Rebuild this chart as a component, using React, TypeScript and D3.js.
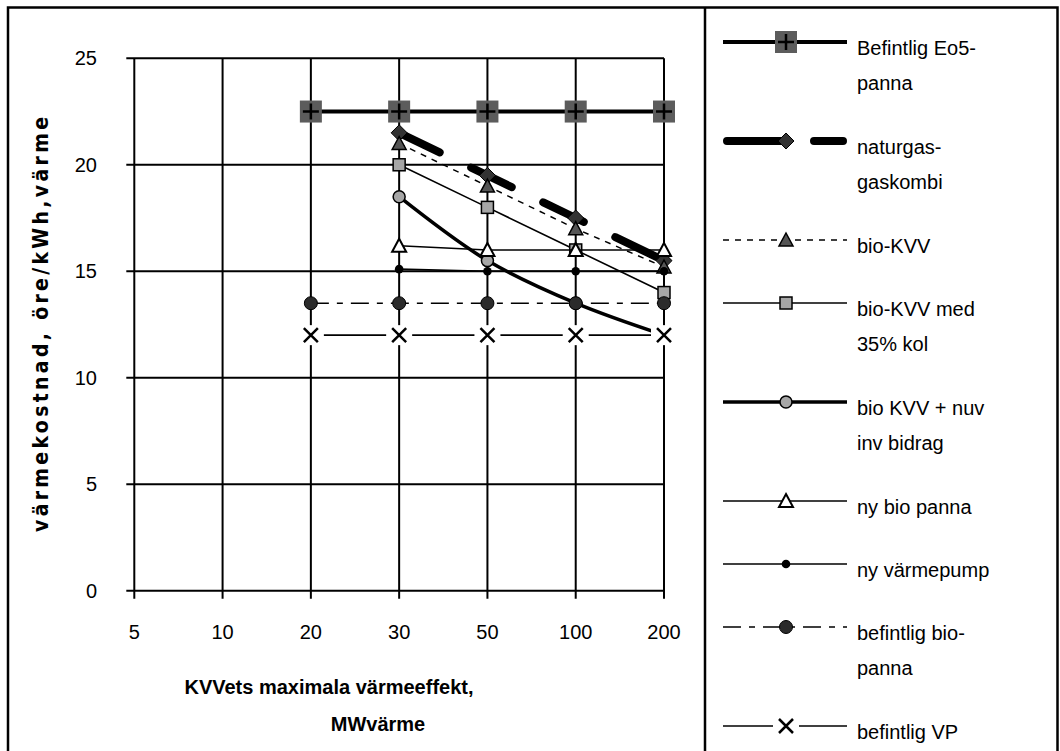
import { useRef, useEffect } from 'react'
import * as d3 from 'd3'

// KVV storlek, MW värme
const categories = ["5", "10", "20", "30", "50", "100", "200"]
const yTicks = [0, 5, 10, 15, 20, 25]

// värmekostnad öre/kWh per alternativ (null = ingen punkt)
const befintligEo5 = [null, null, 22.5, 22.5, 22.5, 22.5, 22.5]
const naturgasKombi = [null, null, null, 21.5, 19.5, 17.5, 15.5]
const bioKvv = [null, null, null, 21, 19, 17, 15.2]
const bioKvvKol = [null, null, null, 20, 18, 16, 14]
const bioKvvBidrag = [null, null, null, 18.5, 15.5, 13.5, 12]
const nyBioPanna = [null, null, null, 16.2, 16, 16, 16]
const nyVarmepump = [null, null, null, 15.1, 15, 15, 15]
const befintligBioPanna = [null, null, 13.5, 13.5, 13.5, 13.5, 13.5]
const befintligVP = [null, null, 12, 12, 12, 12, 12]

const legendLabels = [
  ["Befintlig Eo5-", "panna"],
  ["naturgas-", "gaskombi"],
  ["bio-KVV"],
  ["bio-KVV med", "35% kol"],
  ["bio KVV + nuv", "inv bidrag"],
  ["ny bio panna"],
  ["ny värmepump"],
  ["befintlig bio-", "panna"],
  ["befintlig VP"],
]

const xTitle = ["KVVets maximala värmeeffekt,", "MWvärme"]
const yTitle = "värmekostnad, öre/kWh,värme"

type Marker = "plusSquare" | "diamond" | "triDark" | "square" | "circleGray" | "triWhite" | "dot" | "circleDark" | "cross"

interface Series {
  values: (number | null)[]
  width: number
  dash?: string
  cap?: string
  smooth?: boolean
  marker: Marker
  legendDash?: string
}

const series: Series[] = [
  { values: befintligEo5, width: 4, marker: "plusSquare" },
  { values: naturgasKombi, width: 8, dash: "45,35", cap: "round", marker: "diamond", legendDash: "55,32" },
  { values: bioKvv, width: 1.5, dash: "6,6", marker: "triDark" },
  { values: bioKvvKol, width: 1.6, marker: "square" },
  { values: bioKvvBidrag, width: 3.5, smooth: true, marker: "circleGray" },
  { values: nyBioPanna, width: 1.6, marker: "triWhite" },
  { values: nyVarmepump, width: 1.6, marker: "dot" },
  { values: befintligBioPanna, width: 1.6, dash: "18,8,6,8", marker: "circleDark" },
  { values: befintligVP, width: 1.6, marker: "cross" },
]

const FONT = "'Liberation Sans', Arial, sans-serif"

function drawMarker(g: d3.Selection<SVGGElement, unknown, null, undefined>, kind: Marker, cx: number, cy: number) {
  const m = g.append("g").attr("transform", `translate(${cx},${cy})`)
  switch (kind) {
    case "plusSquare":
      m.append("rect").attr("x", -11).attr("y", -11).attr("width", 22).attr("height", 22).attr("fill", "#5c5c5c")
      m.append("path").attr("d", "M-8,0H8M0,-8V8").attr("stroke", "#000").attr("stroke-width", 2.5)
      break
    case "diamond":
      m.append("path").attr("d", "M0,-8L8,0L0,8L-8,0Z").attr("fill", "#333").attr("stroke", "#000").attr("stroke-width", 1)
      break
    case "triDark":
      m.append("path").attr("d", "M0,-7L7,6H-7Z").attr("fill", "#555").attr("stroke", "#000").attr("stroke-width", 1.5)
      break
    case "triWhite":
      m.append("path").attr("d", "M0,-7L7,6H-7Z").attr("fill", "#fff").attr("stroke", "#000").attr("stroke-width", 2)
      break
    case "square":
      m.append("rect").attr("x", -6).attr("y", -6).attr("width", 12).attr("height", 12)
        .attr("fill", "#a6a6a6").attr("stroke", "#000").attr("stroke-width", 1.5)
      break
    case "circleGray":
      m.append("circle").attr("r", 6).attr("fill", "#a6a6a6").attr("stroke", "#000").attr("stroke-width", 1.5)
      break
    case "dot":
      m.append("circle").attr("r", 4.3).attr("fill", "#000")
      break
    case "circleDark":
      m.append("circle").attr("r", 6.5).attr("fill", "#2b2b2b").attr("stroke", "#000").attr("stroke-width", 1)
      break
    case "cross":
      m.append("rect").attr("x", -13).attr("y", -10).attr("width", 26).attr("height", 20).attr("fill", "#fff")
      m.append("path").attr("d", "M-7,-7L7,7M7,-7L-7,7").attr("stroke", "#000").attr("stroke-width", 2.5)
      break
  }
}

export default function App() {
  const svgRef = useRef<SVGSVGElement>(null)

  useEffect(() => {
    if (!svgRef.current) return
    const width = 1060
    const height = 751
    const plot = { left: 134.3, right: 664, top: 58.3, bottom: 590.7 }

    const svg = d3.select(svgRef.current)
    svg.selectAll("*").remove()
    svg.attr("width", width).attr("height", height)

    svg.append("rect").attr("width", width).attr("height", height).attr("fill", "#fff")

    const x = d3.scalePoint<string>().domain(categories).range([plot.left, plot.right])
    const y = d3.scaleLinear().domain([0, 25]).range([plot.bottom, plot.top])

    // outer frame + legend separator
    svg.append("path")
      .attr("d", `M8,760V7.5H1057.5V760`)
      .attr("fill", "none").attr("stroke", "#000").attr("stroke-width", 2.5)
    svg.append("line").attr("x1", 705).attr("x2", 705).attr("y1", 7).attr("y2", height)
      .attr("stroke", "#000").attr("stroke-width", 2.5)

    // grid
    const grid = svg.append("g").attr("stroke", "#000").attr("stroke-width", 2)
    yTicks.forEach(t => {
      grid.append("line").attr("x1", plot.left - 8).attr("x2", plot.right)
        .attr("y1", y(t)).attr("y2", y(t))
    })
    categories.forEach(c => {
      grid.append("line").attr("x1", x(c)!).attr("x2", x(c)!)
        .attr("y1", plot.top).attr("y2", plot.bottom + 8)
    })

    // tick labels
    svg.append("g").selectAll("text").data(yTicks).enter().append("text")
      .attr("x", 97).attr("y", d => y(d) + 7)
      .attr("text-anchor", "end")
      .style("font-family", FONT).style("font-size", "20px")
      .text(d => d)
    svg.append("g").selectAll("text").data(categories).enter().append("text")
      .attr("x", d => x(d)!).attr("y", 639)
      .attr("text-anchor", "middle")
      .style("font-family", FONT).style("font-size", "20px")
      .text(d => d)

    // axis titles
    svg.append("g").selectAll("text").data(xTitle).enter().append("text")
      .attr("x", (_, i) => i === 0 ? 329 : 378).attr("y", (_, i) => 694 + i * 37)
      .attr("text-anchor", "middle")
      .style("font-family", FONT).style("font-size", "20px").style("font-weight", "bold")
      .text(d => d)
    svg.append("text")
      .attr("transform", `translate(48,${(plot.top + plot.bottom) / 2}) rotate(-90)`)
      .attr("text-anchor", "middle")
      .attr("textLength", 415).attr("lengthAdjust", "spacing")
      .style("font-family", "'DejaVu Sans', sans-serif")
      .style("font-stretch", "condensed")
      .style("font-size", "21px").style("font-weight", "bold")
      .text(yTitle)

    // series
    const seriesG = svg.append("g")
    series.forEach(s => {
      const pts = s.values.map((v, i) => [categories[i], v] as [string, number | null])
      const line = d3.line<[string, number | null]>()
        .defined(d => d[1] != null)
        .x(d => x(d[0])!)
        .y(d => y(d[1] as number))
        .curve(s.smooth ? d3.curveCatmullRom.alpha(0.5) : d3.curveLinear)
      const g = seriesG.append("g")
      g.append("path").attr("d", line(pts))
        .attr("fill", "none").attr("stroke", "#000")
        .attr("stroke-width", s.width)
        .attr("stroke-dasharray", s.dash ?? null)
        .attr("stroke-linecap", s.cap ?? "butt")
        .attr("stroke-linejoin", "round")
      pts.filter(d => d[1] != null).forEach(d => drawMarker(g, s.marker, x(d[0])!, y(d[1] as number)))
    })

    // legend
    const legend = svg.append("g")
    let ly = 42
    series.forEach((s, i) => {
      const g = legend.append("g")
      const x0 = s.cap === "round" ? 727 : 723
      const x1 = s.cap === "round" ? 843 : 847
      g.append("line").attr("x1", x0).attr("x2", x1).attr("y1", ly).attr("y2", ly)
        .attr("stroke", "#000").attr("stroke-width", s.width)
        .attr("stroke-dasharray", s.legendDash ?? s.dash ?? null)
        .attr("stroke-linecap", s.cap ?? "butt")
      drawMarker(g, s.marker, 786, ly)
      legendLabels[i].forEach((t, j) => {
        g.append("text").attr("x", 857).attr("y", ly + 13 + j * 35)
          .style("font-family", FONT).style("font-size", "20px")
          .text(t)
      })
      ly += legendLabels[i].length === 2 ? 99 : 63
    })
  }, [])

  return (
    <svg
      ref={svgRef}
      width={1060}
      height={751}
      style={{ position: 'absolute', left: 0, top: 0 }}
    />
  )
}
